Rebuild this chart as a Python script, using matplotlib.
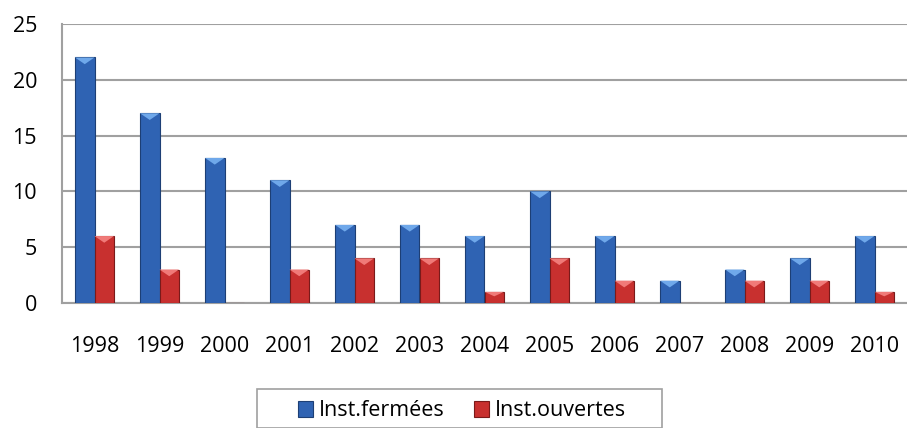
import numpy as np
import matplotlib.pyplot as plt
from matplotlib.patches import Polygon, Rectangle

# -----------------------
# Données
# -----------------------
years = ['1998', '1999', '2000', '2001', '2002', '2003', '2004',
         '2005', '2006', '2007', '2008', '2009', '2010']
fermees = [22, 17, 13, 11, 7, 7, 6, 10, 6, 2, 3, 4, 6]
ouvertes = [6, 3, 0, 3, 4, 4, 1, 4, 2, 0, 2, 2, 1]

plt.rcParams['font.family'] = ['Open Sans', 'DejaVu Sans']

W, H = 907, 428
fig = plt.figure(figsize=(W / 100, H / 100), dpi=100)
ax = fig.add_axes([62 / W, 1 - 303 / H, 845 / W, 279 / H])

x = np.arange(len(years))
w = 0.3


def bevel_bars(xs, vals, face, light, edge):
    bars = ax.bar(xs, vals, w, color=face, edgecolor=edge, linewidth=0.8, zorder=3)
    for b, v in zip(bars, vals):
        if v <= 0:
            continue
        x0 = b.get_x()
        x1 = x0 + b.get_width()
        h = min(0.6, v / 2.5)
        tri = Polygon([(x0, v), (x1, v), ((x0 + x1) / 2, v - h)],
                      closed=True, facecolor=light, edgecolor='none', zorder=4)
        ax.add_patch(tri)
    return bars


b1 = bevel_bars(x - w / 2, fermees, '#2f63b3', '#6fa8ea', '#1d3f75')
b2 = bevel_bars(x + w / 2, ouvertes, '#c8302f', '#f07a78', '#7a1a1a')

ax.set_xlim(-0.5, len(years) - 0.5)
ax.set_ylim(0, 25)
ax.set_yticks(range(0, 26, 5))
ax.set_xticks(x)
ax.set_xticklabels(years)
ax.yaxis.grid(True, color='#a0a0a0', linewidth=1.5, zorder=0)
ax.tick_params(axis='both', length=0, labelsize=15.5, colors='black')
ax.tick_params(axis='x', pad=24)
ax.tick_params(axis='y', pad=18)
for s in ['top', 'right']:
    ax.spines[s].set_visible(False)
for s in ['left', 'bottom']:
    ax.spines[s].set_color('#a0a0a0')
    ax.spines[s].set_linewidth(1.5)

# cadre de la légende
fig.patches.append(Rectangle((257 / W, 0), (662 - 257) / W, 1 - 389 / H,
                             transform=fig.transFigure, facecolor='none',
                             edgecolor='#a0a0a0', linewidth=1.2))
leg = fig.legend([b1, b2], ['Inst.fermées', 'Inst.ouvertes'],
                 loc='center', bbox_to_anchor=(462 / W, 1 - 411 / H),
                 ncol=2, fontsize=15.5, frameon=False,
                 handlelength=0.7, handleheight=0.7, handletextpad=0.25,
                 columnspacing=1.4, borderpad=0)

fig.savefig('out.png', dpi=100)
